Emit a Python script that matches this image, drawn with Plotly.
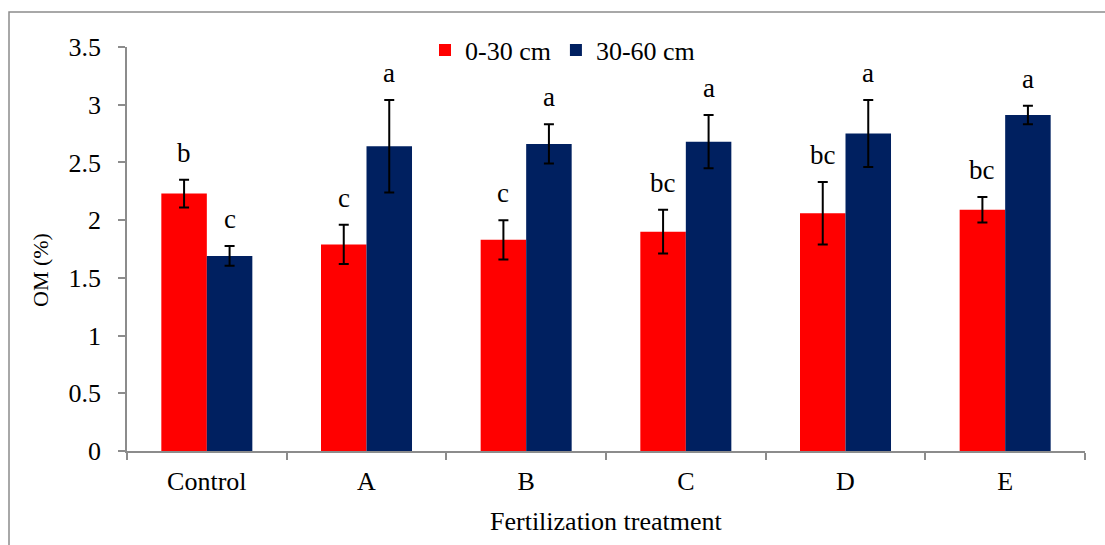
import plotly.graph_objects as go

# Organic matter (%) by fertilization treatment and soil depth
treatments = ["Control", "A", "B", "C", "D", "E"]

om_0_30 = [2.23, 1.79, 1.83, 1.90, 2.06, 2.09]
err_0_30 = [0.12, 0.17, 0.17, 0.19, 0.27, 0.11]
letters_0_30 = ["b", "c", "c", "bc", "bc", "bc"]

om_30_60 = [1.69, 2.64, 2.66, 2.68, 2.75, 2.91]
err_30_60 = [0.085, 0.40, 0.17, 0.23, 0.29, 0.08]
letters_30_60 = ["c", "a", "a", "a", "a", "a"]

FONT = "'Liberation Serif', 'DejaVu Serif', serif"
AXIS_GREY = "#8c8c8c"
RED = "#FF0000"
NAVY = "#002060"

W, H = 1105, 545
ML, MR, MT, MB = 127, 20, 47, 94
plot_w = W - ML - MR
plot_h = H - MT - MB


def px_to_paper_x(px):
    return (px - ML) / plot_w


def px_to_paper_y(py):
    return (H - MB - py) / plot_h


fig = go.Figure()

fig.add_trace(go.Bar(
    name="0-30 cm", x=treatments, y=om_0_30,
    marker=dict(color=RED, line=dict(width=0)),
    error_y=dict(type="data", array=err_0_30, color="black",
                 thickness=2, width=5),
))
fig.add_trace(go.Bar(
    name="30-60 cm", x=treatments, y=om_30_60,
    marker=dict(color=NAVY, line=dict(width=0)),
    error_y=dict(type="data", array=err_30_60, color="black",
                 thickness=2, width=5),
))

# Significance letters above each error bar
bargap = 0.43
cat_w = plot_w / len(treatments)
half_bar = cat_w * (1 - bargap) / 4
for i, t in enumerate(treatments):
    for vals, errs, lets, sgn in ((om_0_30, err_0_30, letters_0_30, -1),
                                  (om_30_60, err_30_60, letters_30_60, 1)):
        fig.add_annotation(
            x=t, y=vals[i] + errs[i], xref="x", yref="y",
            text=lets[i], showarrow=False,
            xanchor="center", yanchor="bottom",
            xshift=sgn * half_bar, yshift=10,
            font=dict(family=FONT, size=27, color="black"),
        )

# Axis titles
fig.add_annotation(
    x=px_to_paper_x(606), y=px_to_paper_y(521), xref="paper", yref="paper",
    text="Fertilization treatment", showarrow=False,
    xanchor="center", yanchor="middle",
    font=dict(family=FONT, size=26, color="black"),
)
fig.add_annotation(
    x=px_to_paper_x(40), y=px_to_paper_y(270), xref="paper", yref="paper",
    text="OM (%)", showarrow=False, textangle=-90,
    xanchor="center", yanchor="middle",
    font=dict(family=FONT, size=22, color="black"),
)

# Outer chart frame
fig.add_shape(
    type="rect", xref="paper", yref="paper",
    x0=px_to_paper_x(9), x1=px_to_paper_x(W + 20),
    y0=px_to_paper_y(H + 20), y1=px_to_paper_y(12),
    line=dict(color=AXIS_GREY, width=1.5), fillcolor="rgba(0,0,0,0)",
    layer="below",
)

fig.update_layout(
    width=W, height=H,
    margin=dict(l=ML, r=MR, t=MT, b=MB, autoexpand=False),
    paper_bgcolor="white", plot_bgcolor="white",
    barmode="group", bargap=bargap, bargroupgap=0,
    font=dict(family=FONT, size=26, color="black"),
    showlegend=True,
    legend=dict(
        orientation="h", x=px_to_paper_x(425), y=px_to_paper_y(50),
        xanchor="left", yanchor="middle",
        font=dict(family=FONT, size=26, color="black"),
        bgcolor="rgba(0,0,0,0)",
    ),
    xaxis=dict(
        showline=True, linecolor=AXIS_GREY, linewidth=1.5,
        ticks="outside", tickson="boundaries", ticklen=7,
        tickcolor=AXIS_GREY, tickwidth=1.5,
        showgrid=False, zeroline=False,
        ticklabelstandoff=6,
        tickfont=dict(family=FONT, size=26, color="black"),
    ),
    yaxis=dict(
        range=[0, 3.5], dtick=0.5, tick0=0,
        showline=True, linecolor=AXIS_GREY, linewidth=1.5,
        ticks="outside", ticklen=7, tickcolor=AXIS_GREY, tickwidth=1.5,
        showgrid=False, zeroline=False,
        ticklabelstandoff=12,
        tickfont=dict(family=FONT, size=26, color="black"),
    ),
)

fig.write_html("out.html")
